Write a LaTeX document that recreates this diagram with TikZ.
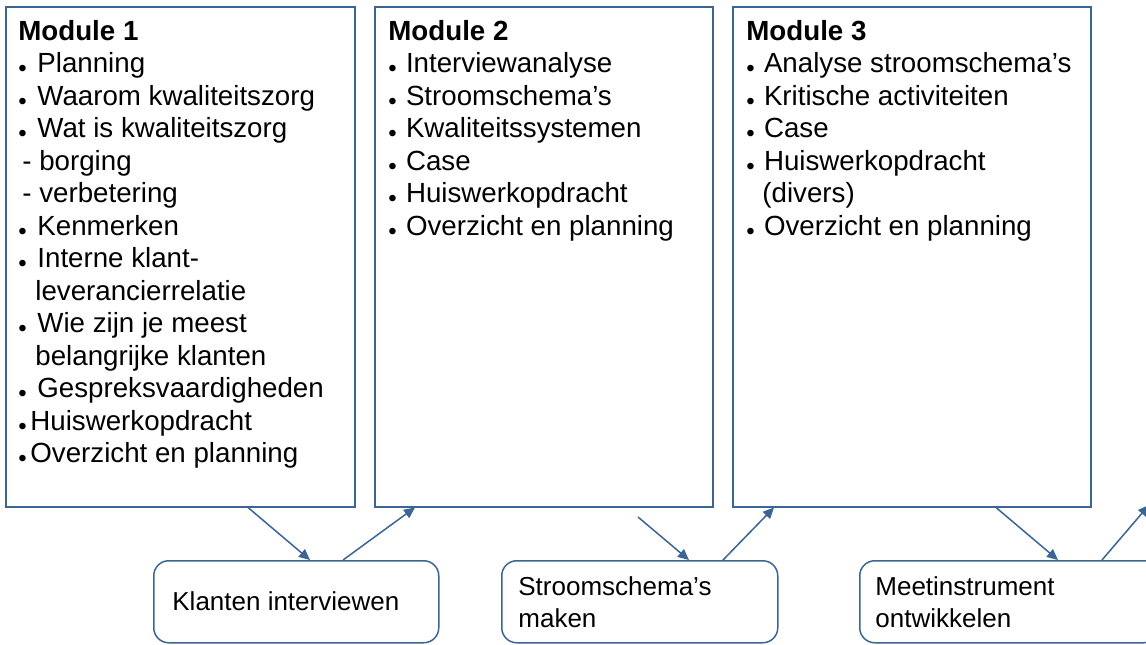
\documentclass[tikz,border=0pt]{standalone}
\usepackage{fontspec}
\setmainfont{Liberation Sans}
\usetikzlibrary{calc,arrows.meta}
\definecolor{edgeblue}{HTML}{3A6595}
\newcommand{\bul}{\raisebox{-1.8pt}{\fontsize{12pt}{12pt}\selectfont •}}
\newcommand{\itmA}[1]{\makebox[9.5pt][l]{\bul}#1}
\newcommand{\itmB}[1]{\makebox[8.8pt][l]{\bul}#1}
\tikzset{
  modbox/.style={draw=edgeblue, line width=0.75pt, fill=white, anchor=north west, inner sep=0pt},
  actbox/.style={draw=edgeblue, line width=0.75pt, fill=white, rounded corners=7.5pt, anchor=north west, inner sep=0pt, minimum height=41pt},
  modtext/.style={anchor=north west, inner sep=0pt, align=left, font=\fontsize{13.85pt}{16.25pt}\selectfont},
  acttext/.style={anchor=north west, inner sep=0pt, align=left, font=\fontsize{13pt}{16pt}\selectfont},
  arr/.style={draw=edgeblue, line width=0.75pt, -{Triangle[length=5.5pt,width=5pt]}}
}
\begin{document}
\begin{tikzpicture}[x=0.5pt,y=-0.5pt]
\fill[white] (0,0) rectangle (1146,644);
\useasboundingbox (0,0) rectangle (1146,644);
% module boxes
\node[modbox, minimum width=174.5pt, minimum height=250pt] (m1) at (5,6) {};
\node[modbox, minimum width=169pt, minimum height=250pt] (m2) at (374,6) {};
\node[modbox, minimum width=179pt, minimum height=250pt] (m3) at (732,6) {};
% module texts
\node[modtext] (t1) at (18,20) {\textbf{Module 1}\\
\itmA{Planning}\\
\itmA{Waarom kwaliteitszorg}\\
\itmA{Wat is kwaliteitszorg}\\
\hspace{2pt}- borging\\
\hspace{2pt}- verbetering\\
\itmA{Kenmerken}\\
\itmA{Interne klant-}\\
\hspace{8.5pt}leverancierrelatie\\
\itmA{Wie zijn je meest}\\
\hspace{8.5pt}belangrijke klanten\\
\itmA{Gespreksvaardigheden}\\
\makebox[6pt][l]{\bul}Huiswerkopdracht\\
\makebox[6pt][l]{\bul}Overzicht en planning};
\node[modtext] (t2) at (388,20) {\textbf{Module 2}\\
\itmB{Interviewanalyse}\\
\itmB{Stroomschema’s}\\
\itmB{Kwaliteitssystemen}\\
\itmB{Case}\\
\itmB{Huiswerkopdracht}\\
\itmB{Overzicht en planning}};
\node[modtext] (t3) at (746,20) {\textbf{Module 3}\\
\itmB{Analyse stroomschema’s}\\
\itmB{Kritische activiteiten}\\
\itmB{Case}\\
\itmB{Huiswerkopdracht}\\
\hspace{8pt}(divers)\\
\itmB{Overzicht en planning}};
% activity boxes
\node[actbox, minimum width=142.5pt] (k) at (153,560) {};
\node[actbox, minimum width=138pt] (s) at (501,560) {};
\node[actbox, minimum width=149.5pt] (me) at (859,560) {};
\node[acttext, anchor=base west] (kt) at (172,610) {Klanten interviewen};
\node[acttext] (st) at (518,576) {Stroomschema’s\\maken};
\node[acttext] (mt) at (875,576) {Meetinstrument\\ontwikkelen};
% connectors
\coordinate (a3s) at (638,517);
\coordinate (offr) at (1149,505);
\draw[arr] ($(m1.south west)+(243,0)$) -- ($(k.north west)+(157,0)$);
\draw[arr] ($(k.north west)+(190,0)$) -- ($(m2.south west)+(41,0)$);
\draw[arr] (a3s) -- ($(s.north west)+(188,0)$);
\draw[arr] ($(s.north west)+(222,0)$) -- ($(m3.south west)+(42,0)$);
\draw[arr] ($(m3.south west)+(264,0)$) -- ($(me.north west)+(199,0)$);
\draw[arr] ($(me.north west)+(243,0)$) -- (offr);
\end{tikzpicture}
\end{document}
